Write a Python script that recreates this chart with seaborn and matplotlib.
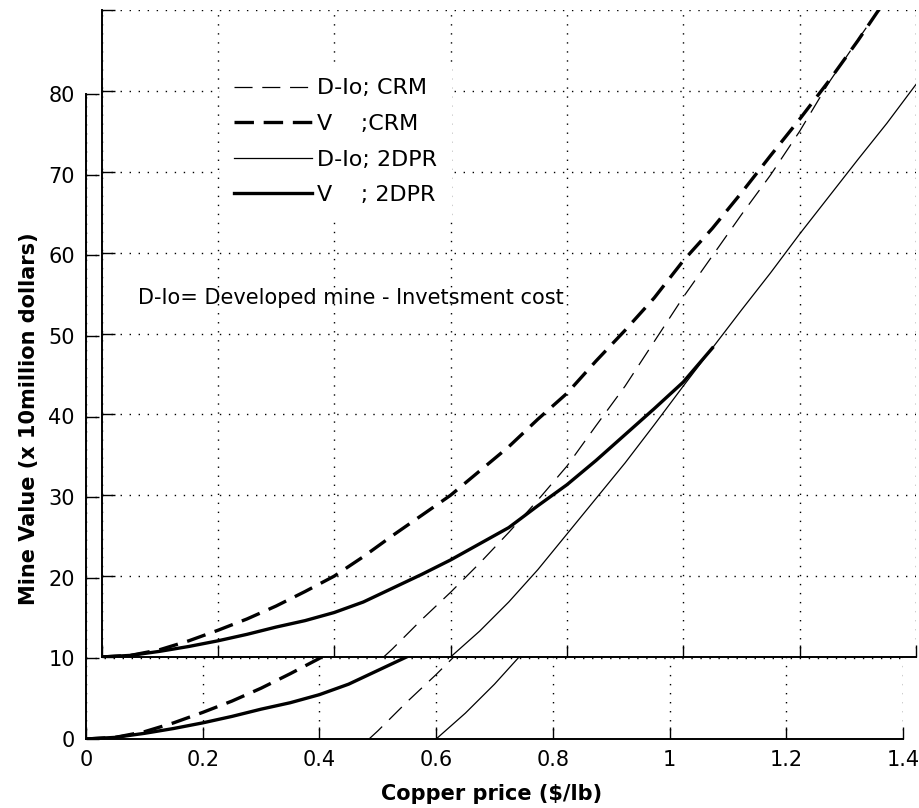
import numpy as np
import matplotlib
matplotlib.use("Agg")
import matplotlib.pyplot as plt
import seaborn as sns
from matplotlib import font_manager

# ---------------- data ----------------
price_v_crm = [0, 0.05, 0.1, 0.15, 0.2, 0.25, 0.3, 0.35, 0.4, 0.45, 0.5, 0.55, 0.6,
               0.65, 0.7, 0.75, 0.8, 0.85, 0.9, 0.95, 1.0, 1.05, 1.1, 1.15, 1.2,
               1.25, 1.3, 1.35]
v_crm = [0, 0.2, 0.9, 2.0, 3.3, 4.7, 6.3, 8.1, 10.0, 12.4, 15.0, 17.5, 20.0,
         23.0, 26.0, 29.4, 32.6, 36.6, 40.4, 44.4, 49.0, 53.0, 57.4, 62.0, 66.5,
         71.2, 76.2, 81.5]

price_d_crm = [0.485, 0.5, 0.55, 0.6, 0.65, 0.7, 0.75, 0.8, 0.85, 0.9, 0.95, 1.0,
               1.05, 1.1, 1.15, 1.2, 1.25, 1.3, 1.35]
d_crm = [0, 1.0, 4.6, 8.0, 11.6, 15.4, 19.4, 23.6, 28.6, 33.5, 39.0, 44.5,
         49.6, 54.7, 59.6, 65.0, 71.0, 76.3, 81.5]

price_v_2dpr = [0, 0.05, 0.1, 0.15, 0.2, 0.25, 0.3, 0.35, 0.4, 0.45, 0.5, 0.55, 0.6,
                0.65, 0.7, 0.75, 0.8, 0.85, 0.9, 0.95, 1.0, 1.05]
v_2dpr = [0, 0.2, 0.7, 1.3, 2.0, 2.8, 3.7, 4.5, 5.5, 6.8, 8.5, 10.2, 12.0,
          14.0, 16.0, 18.7, 21.3, 24.3, 27.5, 30.7, 34.0, 38.2]

price_d_2dpr = [0.6, 0.65, 0.7, 0.75, 0.8, 0.85, 0.9, 0.95, 1.0, 1.05, 1.1, 1.15,
                1.2, 1.25, 1.3, 1.35, 1.4]
d_2dpr = [0, 3.2, 6.8, 10.8, 15.2, 19.6, 24.0, 28.7, 33.5, 38.2, 42.9, 47.5,
          52.3, 56.9, 61.5, 66.0, 70.8]

series_labels = ["D-Io; CRM", "V    ;CRM", "D-Io; 2DPR", "V    ; 2DPR"]
x_ticks = [0, 0.2, 0.4, 0.6, 0.8, 1.0, 1.2, 1.4]
x_tick_labels = ["0", "0.2", "0.4", "0.6", "0.8", "1", "1.2", "1.4"]
y_ticks = [0, 10, 20, 30, 40, 50, 60, 70, 80]
y_tick_labels = ["0", "10", "20", "30", "40", "50", "60", "70", "80"]
note_text = "D-Io= Developed mine - Invetsment cost"

# ---------------- style ----------------
plt.rcParams["font.family"] = ["DejaVu Sans"]
plt.rcParams["lines.scale_dashes"] = False

names = {f.name for f in font_manager.fontManager.ttflist}
if "Liberation Sans Narrow" in names:
    lab_font, lab_size = "Liberation Sans Narrow", 18
else:
    lab_font, lab_size = "DejaVu Sans", 15

W, H = 919, 808
fig = plt.figure(figsize=(W / 100, H / 100), dpi=100)
fig.patch.set_facecolor("white")


def px_axes(left, right, bottom, top):
    return [left / W, 1 - bottom / H, (right - left) / W, (bottom - top) / H]


ax_lo = fig.add_axes(px_axes(86, 903, 739, 94))
ax_up = fig.add_axes(px_axes(101.5, 916, 657, 10))

series = [
    (price_d_crm, d_crm, 0.9, (0, (13, 7))),
    (price_v_crm, v_crm, 2.4, (0, (14, 7))),
    (price_d_2dpr, d_2dpr, 0.9, "-"),
    (price_v_2dpr, v_2dpr, 2.4, "-"),
]

grid_ls = (0, (1, 5.5))
for ax in (ax_lo, ax_up):
    ax.set_facecolor("white")
    for (xs, ys, lw, ls), lab in zip(series, series_labels):
        sns.lineplot(x=xs, y=ys, ax=ax, color="black", linewidth=lw,
                     linestyle=ls, label=(lab if ax is ax_up else "_nolegend_"),
                     estimator=None, sort=False)
    ax.set_xlim(0, 1.4)
    ax.set_ylim(0, 80)
    ax.set_xticks(x_ticks)
    ax.set_yticks(y_ticks)
    ax.set_axisbelow(True)
    ax.grid(True, color="black", linestyle=grid_ls, linewidth=1.0)
    for s in ("top", "right"):
        ax.spines[s].set_visible(False)
    for s in ("left", "bottom"):
        ax.spines[s].set_linewidth(1.4)
        ax.spines[s].set_color("black")
    ax.tick_params(direction="in", length=9, width=1.0, top=False, right=False,
                   color="black")
    ax.set_xlabel("")
    ax.set_ylabel("")

ax_lo.set_xticklabels(x_tick_labels)
ax_lo.set_yticklabels(y_tick_labels)
ax_lo.tick_params(labelsize=15, pad=8)
ax_up.tick_params(labelbottom=False, labelleft=False)

ax_lo.set_xlabel("Copper price (\\$/lb)", fontsize=lab_size, fontweight="bold",
                 family=lab_font)
ax_lo.xaxis.set_label_coords(0.496, -0.07)
ax_lo.set_ylabel("Mine Value (x 10million dollars)", fontsize=lab_size,
                 fontweight="bold", family=lab_font)
ax_lo.yaxis.set_label_coords(-0.058, 0.496)

ax_up.text(0.063, 44.4, note_text, fontsize=15, va="center", ha="left")

leg = ax_up.legend(loc="upper left", bbox_to_anchor=(220 / W, 1 - 64 / H),
                   bbox_transform=fig.transFigure, frameon=True, fancybox=False,
                   edgecolor="none", facecolor="white", framealpha=1,
                   fontsize=16, handlelength=3.5, handletextpad=0.22,
                   labelspacing=0.7, borderpad=0.65, borderaxespad=0)

fig.savefig("out.png", dpi=100, facecolor="white")
